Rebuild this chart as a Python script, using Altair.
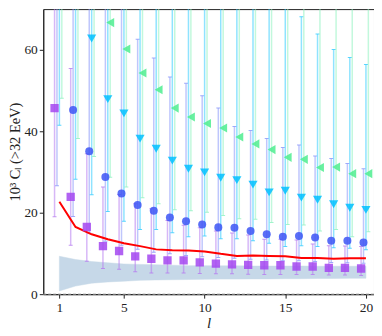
import altair as alt
import pandas as pd

ells = list(range(1, 21))

# purple squares
purple_val = [45.7, 23.9, 16.5, 11.8, 10.6, 9.3, 8.7, 8.3, 8.3, 7.8, 7.5, 7.3, 7.2, 7.1, 7.1, 6.8, 6.8, 6.45, 6.45, 6.3]
purple_lo = [19.0, 12.0, 8.1, 6.3, 6.1, 5.5, 5.2, 5.2, 5.2, 5.1, 5.0, 5.0, 4.9, 4.8, 4.8, 4.8, 4.8, 4.7, 4.7, 4.6]
purple_hi = [75.0, 55.4, 34.5, 26.3, 24.5, 22.2, 21.0, 18.1, 16.9, 16.3, 15.5, 15.0, 14.5, 13.5, 13.5, 13.3, 12.3, 11.9, 11.8, 11.7]

# blue circles
blue_val = [None, 45.2, 35.1, 28.8, 24.7, 21.9, 20.5, 18.8, 17.9, 17.1, 16.4, 16.3, 15.5, 14.7, 14.1, 14.3, 13.9, 13.1, 13.1, 12.7]
blue_lo = [26.6, 19.1, 15.0, 13.0, 12.0, 11.0, 10.3, 9.9, 9.5, 9.2, 9.0, 8.8, 8.6, 8.4, 8.2, 8.2, 8.0, 7.8, 7.7, 7.6]
blue_hi = [75.0, 75.0, 75.0, 75.0, 75.0, 62.6, 58.0, 53.3, 51.8, 48.7, 45.7, 41.2, 40.2, 38.2, 36.0, 36.6, 33.9, 33.3, 32.1, 30.8]

# cyan down-triangles
cyan_val = [None, None, 62.8, 47.9, 44.4, 38.2, 35.7, 32.8, 30.8, 29.9, 28.6, 28.0, 26.9, 25.0, 25.4, 23.7, 23.2, 22.1, 21.2, 20.7]
cyan_lo = [41.5, 28.2, 24.4, 20.3, 17.9, 15.9, 15.9, 15.1, 14.1, 14.3, 13.6, 13.6, 13.1, 12.5, 11.7, 11.9, 11.7, 11.4, 11.3, 10.9]
cyan_hi = [75.0] * 15 + [68.1, 63.9, 60.1, 58.1, 56.4]

# green left-triangles
green_val = [None, None, None, 66.7, 60.2, 54.3, 50.2, 45.7, 43.5, 41.9, 40.8, 38.6, 36.9, 35.5, 33.6, 33.1, 31.1, 31.2, 29.6, 29.6]
green_lo = [48.1, 38.2, 33.8, 28.7, 26.3, 23.7, 22.2, 20.7, 20.5, 20.1, 19.3, 18.5, 18.4, 17.6, 17.1, 17.0, 15.5, 15.9, 14.1, 15.3]
green_hi = [75.0] * 20

# red line
red_val = [22.7, 16.5, 14.7, 13.5, 12.5, 11.8, 11.0, 10.8, 10.7, 10.5, 9.9, 9.4, 9.5, 9.4, 9.3, 8.9, 8.9, 8.7, 8.8, 8.8]

# shaded band
band_lo = [0.8, 2.0, 2.7, 3.0, 3.2, 3.4, 3.5, 3.55, 3.6, 3.65, 3.7, 3.7, 3.75, 3.75, 3.8, 3.8, 3.85, 3.85, 3.9, 3.9]
band_hi = [9.3, 8.5, 8.0, 7.7, 7.4, 7.3, 7.2, 7.1, 7.0, 7.0, 6.95, 6.95, 6.9, 6.9, 6.9, 6.9, 6.85, 6.85, 6.85, 6.85]

FONT = "Liberation Serif"
W, H = 333, 287
xs = alt.Scale(domain=[0, 20.5], nice=False, zero=False)
ys = alt.Scale(domain=[0, 70], nice=False, zero=False)

xaxis = alt.Axis(values=[1, 5, 10, 15, 20], grid=False, tickSize=4, tickColor="#222",
                 domainColor="#222", labelFont=FONT, labelFontSize=13.5, labelColor="#222",
                 labelPadding=2, titleFont=FONT, titleFontStyle="italic",
                 titleFontWeight="normal", titleFontSize=15, titleColor="#222",
                 titleX=W / 2, titleY=29, titleBaseline="middle", titleAlign="center")
yaxis = alt.Axis(values=[0, 20, 40, 60], grid=False, tickSize=4, tickColor="#222",
                 domainColor="#222", labelFont=FONT, labelFontSize=13.5, labelColor="#222",
                 labelPadding=2, titleFont=FONT,
                 titleFontWeight="normal", titleFontSize=14.5, titleColor="#222",
                 titleX=-28, titleY=H / 2, titleAngle=270, titleBaseline="middle",
                 titleAlign="center")
XT = "l"
YT = "10³ Cₗ (>32 EeV)"


def X(field):
    return alt.X(field, scale=xs, axis=xaxis, title=XT)


def Y(field):
    return alt.Y(field, scale=ys, axis=yaxis, title=YT)


band_df = pd.DataFrame({"l": ells, "lo": band_lo, "hi": band_hi})
red_df = pd.DataFrame({"l": ells, "v": red_val})

band = alt.Chart(band_df).mark_area(color="#4682b4", opacity=0.3, stroke="#4682b4",
                                    strokeWidth=0.8, strokeOpacity=0.6).encode(
    x=X("l:Q"), y=Y("lo:Q"), y2="hi:Q",
)

zero = alt.Chart(pd.DataFrame({"z": [0]})).mark_rule(color="#999", strokeDash=[3, 2], strokeWidth=1).encode(
    y=Y("z:Q")
)

red = alt.Chart(red_df).mark_line(color="#ff0000", strokeWidth=2).encode(
    x=X("l:Q"), y=Y("v:Q"),
)

series = [
    (purple_val, purple_lo, purple_hi, -0.3, "#a347f0", "#b77cf0", "square", 70),
    (blue_val, blue_lo, blue_hi, -0.15, "#3d55f5", "#8a97fa", "circle", 65),
    (cyan_val, cyan_lo, cyan_hi, 0.0, "#00bfff", "#33ccff", "triangle-down", 85),
    (green_val, green_lo, green_hi, 0.15, "#4ded8f", "#8ff2c0", "triangle-left", 85),
]

bars = []
points = []
for vals, lo, hi, off, col, ecol, shape, size in series:
    df = pd.DataFrame({"l": ells, "x": [l + off for l in ells], "v": vals, "lo": lo, "hi": hi})
    base = alt.Chart(df)
    bars.append(base.mark_rule(color=ecol, opacity=0.55, strokeWidth=1.5, clip=True).encode(
        x=X("x:Q"), y=Y("lo:Q"), y2="hi:Q",
    ))
    bars.append(base.mark_tick(color=ecol, opacity=0.8, orient="horizontal", size=4,
                               thickness=1, clip=True).encode(
        x=X("x:Q"), y=Y("lo:Q"),
    ))
    bars.append(base.mark_tick(color=ecol, opacity=0.8, orient="horizontal", size=4,
                               thickness=1, clip=True).encode(
        x=X("x:Q"), y=Y("hi:Q"),
    ))
    points.append(base.transform_filter("isValid(datum.v)").mark_point(
        shape=shape, filled=True, color=col, opacity=0.85, size=size, clip=True).encode(
        x=X("x:Q"), y=Y("v:Q"),
    ))

chart = alt.layer(band, zero, *bars, red, *points).properties(
    width=W, height=H,
    autosize=alt.AutoSizeParams(type="none"),
    padding={"left": 35.5, "top": 0, "right": 0, "bottom": 40},
).configure_view(stroke="#222", strokeWidth=1)

chart.save("out.html", embed_options={"renderer": "svg", "actions": False})
